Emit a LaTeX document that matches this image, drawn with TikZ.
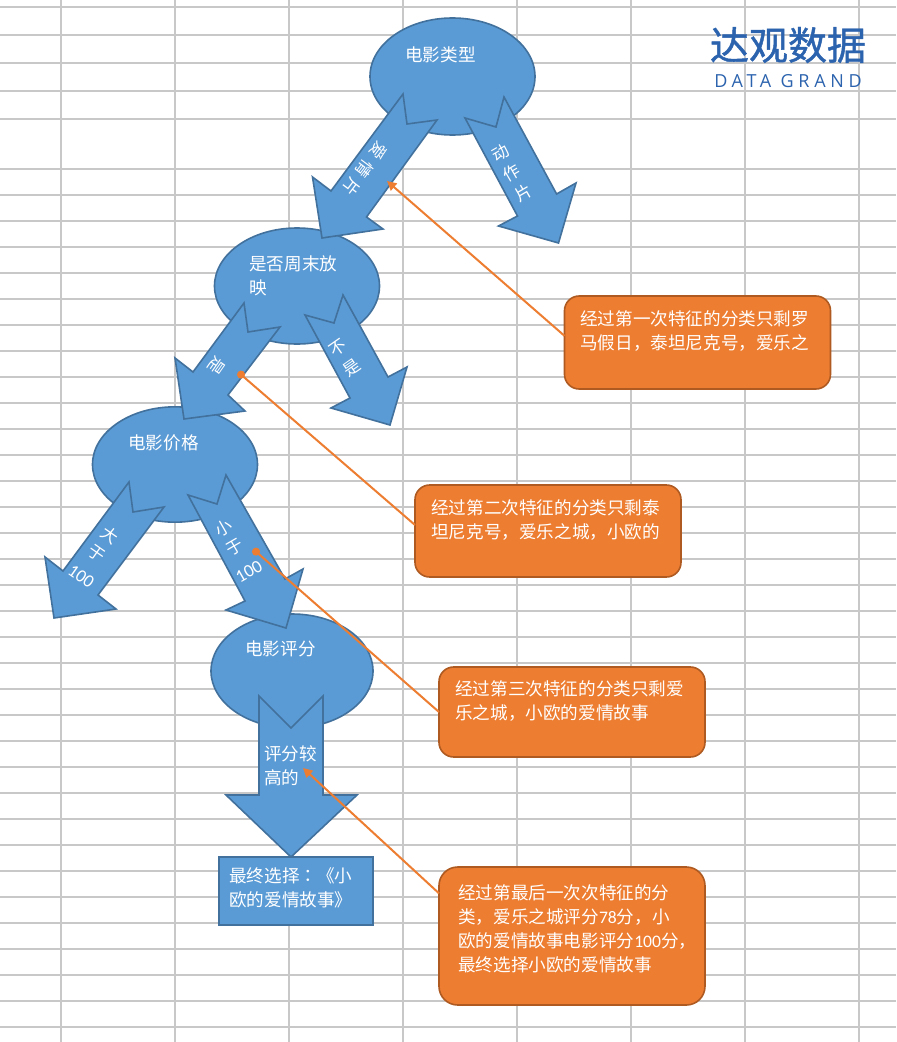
\documentclass[tikz,border=0pt]{standalone}
\usepackage{fontspec}
\usetikzlibrary{arrows.meta,shapes.geometric}
\setmainfont{Noto Sans CJK SC}
\newfontfamily\tcfont{Noto Sans CJK TC}
\newfontfamily\latfont{Carlito}
\newfontfamily\spaced[LetterSpace=38]{Noto Sans CJK SC}
\newfontfamily\logocjk[FakeBold=1.2]{Noto Sans CJK SC}
\newfontfamily\logolat[LetterSpace=26]{Open Sans}
\definecolor{bluefill}{HTML}{5B9BD5}
\definecolor{blueedge}{HTML}{41719C}
\definecolor{orfill}{HTML}{ED7D31}
\definecolor{oredge}{HTML}{AE5A21}
\definecolor{gridc}{HTML}{C8C8C8}
\definecolor{logoc}{HTML}{2C63AE}
\tikzset{
  oval/.style={ellipse,draw=blueedge,fill=bluefill,line width=1.2pt,inner sep=0pt,outer sep=0pt},
  rectbox/.style={rectangle,draw=blueedge,fill=bluefill,line width=1.2pt,inner sep=0pt,outer sep=0pt},
  notebox/.style={rectangle,rounded corners=11pt,draw=oredge,fill=orfill,line width=1.2pt,inner sep=0pt,outer sep=0pt,minimum width=199.5pt},
  blockarrow/.style={draw=blueedge,fill=bluefill,line width=1.2pt,line join=miter},
  gridline/.style={draw=gridc,line width=1.5pt},
  txt/.style={text=white,anchor=west,inner sep=0pt,align=left,font=\fontsize{13.2}{18}\selectfont},
  lab/.style={text=white,inner sep=0pt,align=center,font=\fontsize{12.5}{17.6}\selectfont},
  conn/.style={draw=orfill,line width=1.5pt},
  tipA/.style={-{Triangle[length=7pt,width=7pt]}},
  tipB/.style={-{Circle[length=6pt,width=6pt]}}
}
\begin{document}
\begin{tikzpicture}[x=0.75pt,y=-0.75pt]
\fill[white] (0,0) rectangle (896,1042);
\useasboundingbox (0,0) rectangle (896,1042);
% sheet grid
\foreach \gx in {61,175,289,403,517,631,745,859}
  \draw[gridline] (\gx,0) -- (\gx,1042);
\foreach \gy in {7,35,63,91,119,169,195,221,247,273,299,325,351,377,403,429,455,481,507,533,559,585,611,637,663,689,715,741,767,793,819,845,871,897,923,949,975,1001,1027}
  \draw[gridline] (0,\gy) -- (896,\gy);
% ovals
\node[oval,minimum width=123.75pt,minimum height=87.75pt] (e1) at (452.5,76.5) {};
\node[oval,minimum width=123.75pt,minimum height=87pt] (e2) at (297,286) {};
\node[oval,minimum width=123.75pt,minimum height=86.5pt] (e3) at (175,464.5) {};
\node[oval,minimum width=121.5pt,minimum height=85.5pt] (e4) at (292,671) {};
\node[rectbox,minimum width=115.5pt,minimum height=51pt] (r1) at (296,891) {};
% block arrows
\draw[blockarrow] (403,94) -- (407,124) -- (437,120) -- (366.5,217) -- (383,229) -- (322,238) -- (312.5,177) -- (331,191) -- cycle;
\draw[blockarrow] (504,97) -- (496,127) -- (465,118) -- (517.5,216) -- (498.5,226) -- (558.5,243) -- (576,183) -- (556.6,194) -- cycle;
\draw[blockarrow] (244,303) -- (248,332) -- (280,327) -- (228,395) -- (245,411) -- (184,419) -- (175,358) -- (193,372) -- cycle;
\draw[blockarrow] (343,295) -- (334,323) -- (305,315) -- (350,398) -- (331,408) -- (390,425) -- (407,367) -- (388,377) -- cycle;
\draw[blockarrow] (129,482) -- (133,512) -- (164,507) -- (98,595) -- (116,609) -- (54,618) -- (45,557) -- (63,571) -- cycle;
\draw[blockarrow] (226,475) -- (217,504) -- (188,495) -- (245,601) -- (226,610) -- (286,628) -- (303,569) -- (285,579) -- cycle;
\draw[blockarrow] (259,696) -- (291,728) -- (323,696) -- (323,795) -- (357,795) -- (291,857) -- (226,795) -- (259,795) -- cycle;
% note boxes
\node[notebox,minimum height=69.75pt] (b1) at (697.5,342.5) {};
\node[notebox,minimum height=69pt] (b2) at (548,531) {};
\node[notebox,minimum height=67.5pt] (b3) at (572,712) {};
\node[notebox,minimum height=103.5pt,rounded corners=14pt] (b4) at (572,936) {};
% oval and box texts
\node[txt] (t1) at (405,54.5) {电影类型};
\node[txt] (t2) at (249,276) {是否周末放\\映};
\node[txt] (t3) at (128,442.5) {电影价格};
\node[txt] (t4) at (245,648.5) {电影评分};
\node[txt] (t5) at (264,765.5) {评分较\\高的};
\node[txt] (t6) at (229,887.5) {最终选择{\tcfont ：}《小\\欧的爱情故事》};
% arrow labels
\node[lab,rotate=-127] (l1) at (365,169) {\spaced 爱情片};
\node[lab,rotate=30] (l2) at (512,173) {动\\作\\片};
\node[lab,rotate=-125] (l3) at (217,366) {是};
\node[lab,rotate=35] (l4) at (345,358) {不\\[1pt]是};
\node[lab,rotate=-35] (l5) at (96,555) {大\\[-1pt]于\\[3pt]{\latfont\fontsize{13.5}{14}\selectfont 100}};
\node[lab,rotate=30] (l6) at (236,549) {小\\[-1pt]于\\[3pt]{\latfont\fontsize{13.5}{14}\selectfont 100}};
% note texts
\node[txt] (n1) at (580,331.5) {经过第一次特征的分类只剩罗\\马假日，泰坦尼克号，爱乐之};
\node[txt] (n2) at (431,519.5) {经过第二次特征的分类只剩泰\\坦尼克号，爱乐之城，小欧的};
\node[txt] (n3) at (455,700.5) {经过第三次特征的分类只剩爱\\乐之城，小欧的爱情故事};
\node[txt] (n4) at (458,929) {经过第最后一次次特征的分\\类，爱乐之城评分{\latfont 78}分，小\\欧的爱情故事电影评分{\latfont 100}分，\\最终选择小欧的爱情故事};
% connectors
\coordinate (s1) at ([yshift=5pt]b1.west);
\coordinate (s2) at ([yshift=4.5pt]b2.west);
\coordinate (s4) at ([yshift=32pt]b4.west);
\coordinate (p1) at (387,181);
\coordinate (p2) at (238,372);
\coordinate (p3) at (253,549);
\coordinate (p4) at (303,768);
\draw[conn,tipA] (s1) -- (p1);
\draw[conn,tipB] (s2) -- (p2);
\draw[conn,tipB] (b3.west) -- (p3);
\draw[conn,tipA] (s4) -- (p4);
% logo
\node[text=logoc,inner sep=0pt,font=\fontsize{29.25}{30}\logocjk] (g1) at (788,45) {达观数据};
\node[text=logoc,inner sep=0pt,font=\fontsize{13.5}{15}\logolat] (g2) at (788,81) {DATA GRAND};
\end{tikzpicture}
\end{document}
